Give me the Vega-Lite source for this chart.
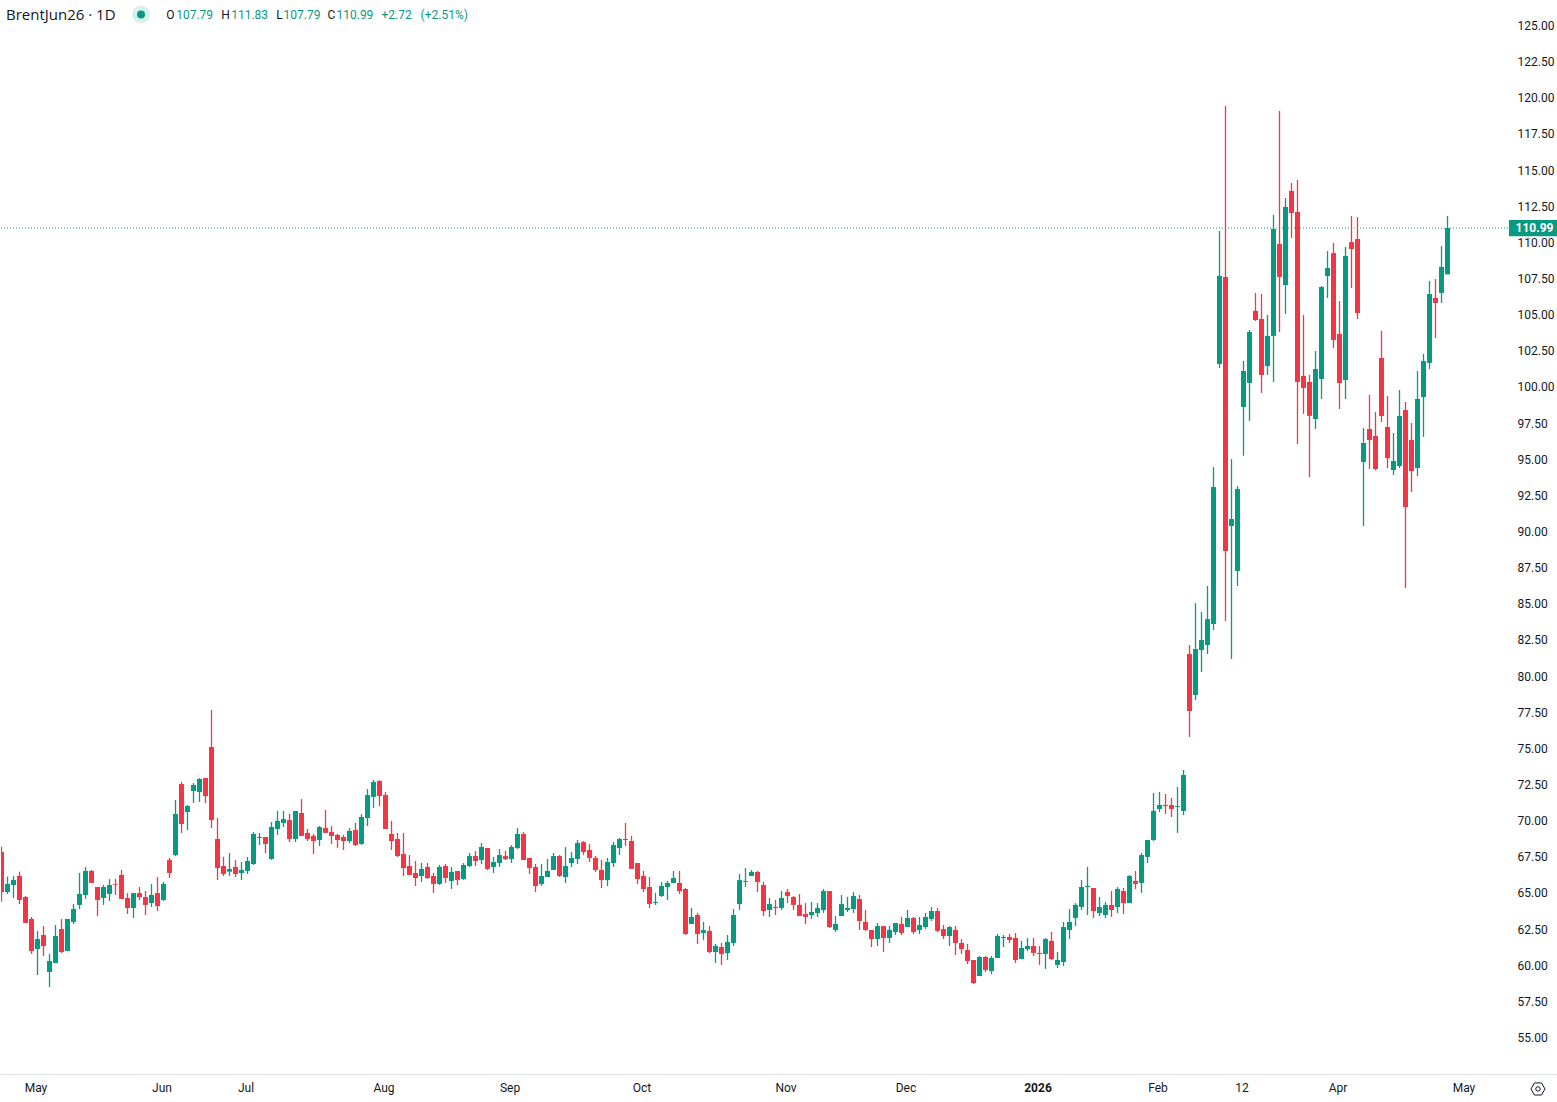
{
  "$schema": "https://vega.github.io/schema/vega-lite/v6.json",
  "width": 1510,
  "height": 1074,
  "padding": 0,
  "background": "#ffffff",
  "config": {
    "view": {"stroke": null},
    "text": {"font": "Roboto", "fontSize": 12}
  },
  "resolve": {"axis": {"x": "independent", "y": "independent"}},
  "datasets": {
    "candles": [
      {"i":0,"o":67.83,"h":68.20,"l":64.39,"c":65.06},{"i":1,"o":65.06,"h":66.13,"l":64.93,"c":65.62},{"i":2,"o":65.55,"h":66.17,"l":64.65,"c":65.89},{"i":3,"o":66.17,"h":66.47,"l":64.23,"c":64.51},
      {"i":4,"o":64.72,"h":64.79,"l":62.92,"c":62.92},{"i":5,"o":63.20,"h":63.34,"l":60.78,"c":60.98},{"i":6,"o":61.12,"h":62.37,"l":59.32,"c":61.81},{"i":7,"o":62.09,"h":62.71,"l":60.64,"c":61.33},
      {"i":8,"o":59.53,"h":60.78,"l":58.49,"c":60.29},{"i":9,"o":60.15,"h":62.78,"l":60.15,"c":62.02},{"i":10,"o":62.50,"h":63.20,"l":60.84,"c":60.91},{"i":11,"o":60.98,"h":63.20,"l":60.98,"c":63.20},
      {"i":12,"o":62.99,"h":64.23,"l":62.85,"c":63.89},{"i":13,"o":64.17,"h":66.38,"l":63.89,"c":64.93},{"i":14,"o":64.86,"h":66.79,"l":64.58,"c":66.52},{"i":15,"o":66.52,"h":66.59,"l":65.69,"c":65.69},
      {"i":16,"o":65.41,"h":65.41,"l":63.40,"c":64.51},{"i":17,"o":64.65,"h":65.55,"l":64.17,"c":65.41},{"i":18,"o":64.93,"h":65.96,"l":64.44,"c":65.55},{"i":19,"o":65.62,"h":65.96,"l":64.86,"c":65.57},
      {"i":20,"o":66.24,"h":66.59,"l":64.58,"c":64.58},{"i":21,"o":64.65,"h":64.99,"l":63.54,"c":63.96},{"i":22,"o":63.96,"h":64.99,"l":63.27,"c":64.99},{"i":23,"o":64.99,"h":65.41,"l":64.51,"c":64.72},
      {"i":24,"o":64.72,"h":65.13,"l":63.47,"c":64.17},{"i":25,"o":64.30,"h":65.62,"l":64.03,"c":64.86},{"i":26,"o":64.99,"h":66.10,"l":63.75,"c":64.09},{"i":27,"o":64.51,"h":65.76,"l":64.44,"c":65.62},
      {"i":28,"o":67.28,"h":67.42,"l":66.03,"c":66.38},{"i":29,"o":67.62,"h":71.43,"l":67.55,"c":70.46},{"i":30,"o":72.53,"h":72.67,"l":69.15,"c":69.77},{"i":31,"o":70.60,"h":71.08,"l":69.35,"c":71.01},
      {"i":32,"o":72.05,"h":72.60,"l":71.22,"c":72.47},{"i":33,"o":71.98,"h":72.95,"l":71.29,"c":72.88},{"i":34,"o":72.95,"h":72.95,"l":71.22,"c":71.70},{"i":35,"o":75.09,"h":77.65,"l":69.49,"c":70.04},
      {"i":36,"o":68.73,"h":70.18,"l":65.89,"c":66.72},{"i":37,"o":66.86,"h":67.49,"l":66.17,"c":66.31},{"i":38,"o":66.47,"h":67.76,"l":66.17,"c":66.65},{"i":39,"o":66.79,"h":67.28,"l":66.10,"c":66.31},
      {"i":40,"o":66.38,"h":67.14,"l":65.89,"c":66.59},{"i":41,"o":66.52,"h":67.49,"l":66.31,"c":67.21},{"i":42,"o":67.00,"h":69.21,"l":66.93,"c":69.08},{"i":43,"o":68.80,"h":69.15,"l":68.32,"c":68.87},
      {"i":44,"o":68.87,"h":68.87,"l":67.76,"c":68.39},{"i":45,"o":67.35,"h":69.91,"l":67.28,"c":69.56},{"i":46,"o":69.42,"h":70.67,"l":69.01,"c":69.98},{"i":47,"o":69.84,"h":70.67,"l":69.56,"c":70.11},
      {"i":48,"o":70.04,"h":70.46,"l":68.52,"c":68.73},{"i":49,"o":68.73,"h":70.67,"l":68.52,"c":70.67},{"i":50,"o":70.53,"h":71.50,"l":68.94,"c":68.94},{"i":51,"o":69.15,"h":69.42,"l":68.59,"c":68.73},
      {"i":52,"o":68.94,"h":69.08,"l":67.69,"c":68.59},{"i":53,"o":68.66,"h":69.63,"l":68.25,"c":69.56},{"i":54,"o":69.49,"h":70.74,"l":69.15,"c":69.15},{"i":55,"o":69.21,"h":69.63,"l":68.39,"c":68.94},
      {"i":56,"o":69.01,"h":69.08,"l":68.11,"c":68.66},{"i":57,"o":68.87,"h":69.01,"l":67.97,"c":68.59},{"i":58,"o":68.59,"h":69.49,"l":68.45,"c":69.29},{"i":59,"o":69.35,"h":69.84,"l":68.25,"c":68.32},
      {"i":60,"o":68.39,"h":70.46,"l":68.32,"c":70.25},{"i":61,"o":70.18,"h":72.19,"l":69.63,"c":71.77},{"i":62,"o":71.64,"h":72.81,"l":70.88,"c":72.67},{"i":63,"o":72.74,"h":72.81,"l":71.01,"c":71.70},
      {"i":64,"o":71.77,"h":71.98,"l":69.42,"c":69.42},{"i":65,"o":69.08,"h":69.98,"l":67.97,"c":68.59},{"i":66,"o":68.73,"h":69.15,"l":67.49,"c":67.55},{"i":67,"o":67.69,"h":69.15,"l":66.17,"c":66.72},
      {"i":68,"o":66.86,"h":67.62,"l":66.24,"c":66.24},{"i":69,"o":66.38,"h":67.21,"l":65.48,"c":66.03},{"i":70,"o":66.17,"h":67.07,"l":65.76,"c":66.66},{"i":71,"o":66.80,"h":67.07,"l":65.96,"c":66.03},
      {"i":72,"o":66.17,"h":66.38,"l":65.00,"c":65.62},{"i":73,"o":65.62,"h":66.93,"l":65.55,"c":66.80},{"i":74,"o":66.86,"h":67.00,"l":65.69,"c":66.03},{"i":75,"o":65.83,"h":66.80,"l":65.27,"c":66.45},
      {"i":76,"o":66.52,"h":66.52,"l":65.55,"c":65.90},{"i":77,"o":65.96,"h":67.07,"l":65.90,"c":66.93},{"i":78,"o":66.86,"h":67.76,"l":66.80,"c":67.55},{"i":79,"o":67.55,"h":67.90,"l":66.86,"c":67.21},
      {"i":80,"o":67.28,"h":68.45,"l":67.00,"c":68.18},{"i":81,"o":68.11,"h":68.11,"l":66.59,"c":66.66},{"i":82,"o":66.80,"h":67.49,"l":66.38,"c":67.14},{"i":83,"o":67.07,"h":68.04,"l":66.80,"c":67.62},
      {"i":84,"o":67.55,"h":67.90,"l":67.28,"c":67.35},{"i":85,"o":67.35,"h":68.31,"l":67.07,"c":68.18},{"i":86,"o":68.11,"h":69.49,"l":68.04,"c":69.08},{"i":87,"o":69.08,"h":69.21,"l":67.28,"c":67.28},
      {"i":88,"o":67.42,"h":67.42,"l":66.31,"c":66.72},{"i":89,"o":66.79,"h":67.00,"l":65.06,"c":65.48},{"i":90,"o":65.62,"h":67.00,"l":65.48,"c":66.17},{"i":91,"o":66.10,"h":67.35,"l":66.10,"c":66.52},
      {"i":92,"o":66.59,"h":67.76,"l":66.59,"c":67.55},{"i":93,"o":67.55,"h":67.62,"l":66.10,"c":66.17},{"i":94,"o":66.10,"h":68.18,"l":65.69,"c":66.86},{"i":95,"o":67.07,"h":67.83,"l":66.79,"c":67.42},
      {"i":96,"o":67.35,"h":68.66,"l":67.00,"c":68.45},{"i":97,"o":68.52,"h":68.59,"l":67.62,"c":67.83},{"i":98,"o":67.97,"h":68.38,"l":67.14,"c":67.42},{"i":99,"o":67.42,"h":67.55,"l":66.45,"c":66.59},
      {"i":100,"o":66.59,"h":67.28,"l":65.34,"c":65.89},{"i":101,"o":65.89,"h":67.42,"l":65.48,"c":67.14},{"i":102,"o":67.07,"h":68.52,"l":66.79,"c":68.31},{"i":103,"o":68.11,"h":68.80,"l":67.62,"c":68.73},
      {"i":104,"o":68.73,"h":69.84,"l":68.25,"c":68.66},{"i":105,"o":68.59,"h":68.94,"l":66.66,"c":66.66},{"i":106,"o":67.07,"h":67.07,"l":65.62,"c":65.96},{"i":107,"o":66.17,"h":66.52,"l":65.06,"c":65.27},
      {"i":108,"o":65.41,"h":66.10,"l":63.96,"c":64.23},{"i":109,"o":64.30,"h":65.00,"l":64.17,"c":64.37},{"i":110,"o":64.79,"h":65.76,"l":64.72,"c":65.48},{"i":111,"o":65.41,"h":65.82,"l":64.51,"c":65.69},
      {"i":112,"o":65.69,"h":66.52,"l":65.69,"c":66.03},{"i":113,"o":65.69,"h":66.52,"l":64.93,"c":65.13},{"i":114,"o":65.27,"h":65.34,"l":62.09,"c":62.16},{"i":115,"o":62.85,"h":63.96,"l":62.85,"c":63.34},
      {"i":116,"o":63.47,"h":63.61,"l":61.47,"c":62.16},{"i":117,"o":62.23,"h":62.99,"l":61.74,"c":62.43},{"i":118,"o":62.37,"h":62.71,"l":60.84,"c":60.91},{"i":119,"o":60.91,"h":61.47,"l":60.15,"c":61.33},
      {"i":120,"o":61.26,"h":61.54,"l":60.01,"c":60.77},{"i":121,"o":60.84,"h":62.09,"l":60.36,"c":61.61},{"i":122,"o":61.54,"h":63.89,"l":61.33,"c":63.47},{"i":123,"o":64.23,"h":66.31,"l":63.82,"c":65.89},
      {"i":124,"o":65.76,"h":66.72,"l":65.41,"c":65.82},{"i":125,"o":66.17,"h":66.59,"l":66.17,"c":66.45},{"i":126,"o":66.45,"h":66.52,"l":65.06,"c":65.76},{"i":127,"o":65.55,"h":65.76,"l":63.40,"c":63.75},
      {"i":128,"o":63.82,"h":64.65,"l":63.33,"c":64.23},{"i":129,"o":64.03,"h":64.51,"l":63.47,"c":63.96},{"i":130,"o":63.96,"h":65.13,"l":63.82,"c":64.65},{"i":131,"o":65.06,"h":65.27,"l":64.30,"c":64.79},
      {"i":132,"o":64.72,"h":64.79,"l":63.82,"c":64.17},{"i":133,"o":64.17,"h":64.93,"l":63.40,"c":63.40},{"i":134,"o":63.54,"h":64.30,"l":62.85,"c":63.34},{"i":135,"o":63.47,"h":64.37,"l":63.20,"c":63.68},
      {"i":136,"o":63.61,"h":64.30,"l":63.34,"c":63.96},{"i":137,"o":63.82,"h":65.27,"l":63.61,"c":65.13},{"i":138,"o":65.13,"h":65.13,"l":62.57,"c":62.64},{"i":139,"o":62.44,"h":63.40,"l":62.30,"c":62.85},
      {"i":140,"o":63.40,"h":64.86,"l":63.40,"c":64.23},{"i":141,"o":63.82,"h":64.72,"l":63.68,"c":63.96},{"i":142,"o":63.89,"h":65.06,"l":63.61,"c":64.79},{"i":143,"o":64.58,"h":64.86,"l":62.44,"c":63.06},
      {"i":144,"o":62.99,"h":63.82,"l":62.37,"c":62.44},{"i":145,"o":62.44,"h":62.44,"l":61.26,"c":61.81},{"i":146,"o":61.81,"h":62.92,"l":61.33,"c":62.71},{"i":147,"o":62.71,"h":62.71,"l":60.91,"c":61.88},
      {"i":148,"o":61.88,"h":62.71,"l":61.54,"c":62.44},{"i":149,"o":62.30,"h":62.92,"l":62.09,"c":62.92},{"i":150,"o":62.85,"h":63.34,"l":62.09,"c":62.23},{"i":151,"o":62.64,"h":63.82,"l":62.64,"c":63.27},
      {"i":152,"o":63.27,"h":63.34,"l":62.16,"c":62.30},{"i":153,"o":62.44,"h":63.34,"l":62.16,"c":62.78},{"i":154,"o":62.64,"h":63.61,"l":62.51,"c":63.34},{"i":155,"o":63.20,"h":64.03,"l":63.06,"c":63.75},
      {"i":156,"o":63.75,"h":63.96,"l":62.30,"c":62.37},{"i":157,"o":62.50,"h":62.78,"l":61.81,"c":62.02},{"i":158,"o":62.02,"h":62.71,"l":61.33,"c":62.64},{"i":159,"o":62.44,"h":62.71,"l":60.71,"c":61.54},
      {"i":160,"o":61.54,"h":61.81,"l":60.78,"c":61.12},{"i":161,"o":61.05,"h":61.47,"l":60.08,"c":60.29},{"i":162,"o":60.36,"h":60.36,"l":58.70,"c":58.77},{"i":163,"o":59.25,"h":60.64,"l":59.25,"c":60.57},
      {"i":164,"o":60.57,"h":60.64,"l":59.53,"c":59.67},{"i":165,"o":59.60,"h":60.64,"l":59.39,"c":60.50},{"i":166,"o":60.50,"h":62.16,"l":60.50,"c":62.02},{"i":167,"o":61.88,"h":62.09,"l":61.26,"c":61.95},
      {"i":168,"o":61.95,"h":62.16,"l":61.54,"c":61.74},{"i":169,"o":61.88,"h":62.23,"l":60.15,"c":60.36},{"i":170,"o":60.43,"h":61.68,"l":60.43,"c":61.19},{"i":171,"o":61.12,"h":61.88,"l":60.98,"c":61.33},
      {"i":172,"o":61.33,"h":61.88,"l":60.64,"c":60.85},{"i":173,"o":60.85,"h":61.33,"l":60.02,"c":60.78},{"i":174,"o":60.78,"h":61.88,"l":59.74,"c":61.81},{"i":175,"o":61.68,"h":62.30,"l":60.36,"c":60.43},
      {"i":176,"o":60.02,"h":60.91,"l":59.81,"c":60.36},{"i":177,"o":60.22,"h":62.99,"l":59.95,"c":62.64},{"i":178,"o":62.44,"h":63.89,"l":61.81,"c":62.99},{"i":179,"o":63.27,"h":64.30,"l":62.71,"c":64.17},
      {"i":180,"o":64.03,"h":65.90,"l":63.82,"c":65.41},{"i":181,"o":65.41,"h":66.80,"l":63.47,"c":65.48},{"i":182,"o":65.34,"h":65.34,"l":63.27,"c":63.75},{"i":183,"o":63.61,"h":64.72,"l":63.40,"c":64.03},
      {"i":184,"o":63.47,"h":64.37,"l":63.27,"c":64.17},{"i":185,"o":64.17,"h":65.13,"l":63.34,"c":63.82},{"i":186,"o":64.03,"h":65.41,"l":63.61,"c":65.27},{"i":187,"o":65.13,"h":65.34,"l":63.54,"c":64.30},
      {"i":188,"o":64.30,"h":66.24,"l":64.30,"c":66.17},{"i":189,"o":65.83,"h":66.52,"l":65.27,"c":65.62},{"i":190,"o":65.69,"h":67.76,"l":65.00,"c":67.62},{"i":191,"o":67.49,"h":68.66,"l":67.07,"c":68.66},
      {"i":192,"o":68.66,"h":71.91,"l":68.59,"c":70.67},{"i":193,"o":70.81,"h":71.98,"l":70.60,"c":71.08},{"i":194,"o":71.08,"h":71.84,"l":70.46,"c":71.01},{"i":195,"o":71.08,"h":71.57,"l":70.25,"c":70.81},
      {"i":196,"o":70.94,"h":72.33,"l":69.15,"c":71.01},{"i":197,"o":70.67,"h":73.50,"l":70.39,"c":73.16},{"i":198,"o":81.52,"h":82.15,"l":75.78,"c":77.58},{"i":199,"o":78.69,"h":85.05,"l":78.34,"c":81.87},
      {"i":200,"o":81.80,"h":84.43,"l":80.28,"c":82.49},{"i":201,"o":82.15,"h":86.23,"l":81.52,"c":83.94},{"i":202,"o":83.60,"h":94.46,"l":83.18,"c":93.08},{"i":203,"o":101.59,"h":110.79,"l":101.31,"c":107.68},
      {"i":204,"o":107.61,"h":119.43,"l":83.81,"c":88.65},{"i":205,"o":90.38,"h":95.01,"l":81.18,"c":90.86},{"i":206,"o":87.27,"h":93.14,"l":86.23,"c":92.94},{"i":207,"o":98.61,"h":101.80,"l":95.24,"c":101.10},
      {"i":208,"o":100.27,"h":103.94,"l":97.65,"c":103.80},{"i":209,"o":105.26,"h":106.50,"l":104.56,"c":104.63},{"i":210,"o":104.70,"h":106.43,"l":99.58,"c":100.83},{"i":211,"o":101.45,"h":104.98,"l":100.83,"c":103.53},
      {"i":212,"o":103.53,"h":111.90,"l":100.34,"c":110.93},{"i":213,"o":109.89,"h":119.09,"l":103.80,"c":107.61},{"i":214,"o":107.05,"h":113.07,"l":105.05,"c":112.45},{"i":215,"o":113.56,"h":114.11,"l":110.30,"c":112.03},
      {"i":216,"o":112.10,"h":114.32,"l":96.05,"c":100.34},{"i":217,"o":100.76,"h":104.98,"l":98.13,"c":99.93},{"i":218,"o":100.34,"h":100.83,"l":93.77,"c":98.00},{"i":219,"o":97.78,"h":102.49,"l":97.09,"c":101.24},
      {"i":220,"o":100.55,"h":106.98,"l":99.17,"c":106.91},{"i":221,"o":107.67,"h":109.40,"l":106.15,"c":108.23},{"i":222,"o":109.26,"h":109.96,"l":102.69,"c":103.25},{"i":223,"o":103.66,"h":105.94,"l":98.47,"c":100.27},
      {"i":224,"o":100.48,"h":109.68,"l":99.17,"c":109.06},{"i":225,"o":110.02,"h":111.82,"l":106.84,"c":109.54},{"i":226,"o":110.23,"h":111.75,"l":104.70,"c":105.11},{"i":227,"o":94.81,"h":97.16,"l":90.38,"c":96.12},
      {"i":228,"o":97.09,"h":99.44,"l":94.32,"c":96.33},{"i":229,"o":96.61,"h":98.27,"l":94.25,"c":94.32},{"i":230,"o":102.00,"h":103.87,"l":97.57,"c":97.99},{"i":231,"o":97.23,"h":99.37,"l":94.39,"c":95.08},
      {"i":232,"o":94.25,"h":96.81,"l":93.91,"c":94.88},{"i":233,"o":94.53,"h":99.79,"l":94.39,"c":97.99},{"i":234,"o":98.40,"h":98.96,"l":86.09,"c":91.69},{"i":235,"o":96.33,"h":97.51,"l":92.73,"c":94.18},
      {"i":236,"o":94.39,"h":101.10,"l":93.84,"c":99.17},{"i":237,"o":99.30,"h":102.28,"l":96.54,"c":101.79},{"i":238,"o":101.66,"h":107.33,"l":101.24,"c":106.43},{"i":239,"o":106.15,"h":107.47,"l":103.38,"c":105.81},
      {"i":240,"o":106.50,"h":109.75,"l":105.81,"c":108.30},{"i":241,"o":107.79,"h":111.83,"l":107.79,"c":110.99}
    ],
    "last": [{"c": 110.99}]
  },
  "layer": [
    {
      "data": {"name": "last"},
      "mark": {"type": "rule", "color": "#089981", "strokeWidth": 1, "strokeDash": [1, 2]},
      "encoding": {
        "x": {"datum": -0.08, "axis": null},
        "x2": {"datum": 251.5},
        "y": {"field": "c", "type": "quantitative", "axis": null}
      }
    },
    {
      "data": {"name": "candles"},
      "mark": {"type": "rule", "strokeWidth": 1.3, "clip": true},
      "encoding": {
        "x": {
          "field": "i",
          "type": "quantitative",
          "scale": {"domain": [-0.0833, 251.5833], "nice": false, "zero": false, "padding": 0},
          "axis": {
            "title": null,
            "grid": false,
            "domain": false,
            "ticks": false,
            "values": [6, 27, 41, 64, 85, 107, 131, 151, 173, 193, 207, 223, 244],
            "labelExpr": "{'6':'May','27':'Jun','41':'Jul','64':'Aug','85':'Sep','107':'Oct','131':'Nov','151':'Dec','173':'2026','193':'Feb','207':'12','223':'Apr','244':'May'}[''+datum.value]",
            "labelFont": "Roboto",
            "labelFontSize": 12,
            "labelFontWeight": {"expr": "datum.value == 173 ? 'bold' : 'normal'"},
            "labelColor": "#131722",
            "labelPadding": 8,
            "labelOffset": -2,
            "labelOverlap": false,
            "labelFlush": false
          }
        },
        "y": {
          "field": "l",
          "type": "quantitative",
          "scale": {"domain": [52.475, 126.764], "nice": false, "zero": false},
          "axis": {
            "title": null,
            "orient": "right",
            "grid": false,
            "domain": false,
            "ticks": false,
            "values": [55, 57.5, 60, 62.5, 65, 67.5, 70, 72.5, 75, 77.5, 80, 82.5, 85, 87.5, 90, 92.5, 95, 97.5, 100, 102.5, 105, 107.5, 110, 112.5, 115, 117.5, 120, 122.5, 125],
            "format": ".2f",
            "labelFont": "Roboto",
            "labelFontSize": 12,
            "labelColor": "#131722",
            "labelPadding": 6,
            "labelOverlap": false
          }
        },
        "y2": {"field": "h"},
        "color": {
          "condition": {"test": "datum.c >= datum.o", "value": "#089981"},
          "value": "#f23645"
        }
      }
    },
    {
      "data": {"name": "candles"},
      "mark": {"type": "bar", "size": 5, "clip": true},
      "encoding": {
        "x": {"field": "i", "type": "quantitative", "axis": null},
        "y": {"field": "o", "type": "quantitative", "axis": null},
        "y2": {"field": "c"},
        "color": {
          "condition": {"test": "datum.c >= datum.o", "value": "#089981"},
          "value": "#f23645"
        }
      }
    },
    {
      "data": {"name": "last"},
      "mark": {"type": "rect", "color": "#089981"},
      "encoding": {
        "x": {"datum": 251.25, "axis": null},
        "x2": {"datum": 259.4},
        "y": {"datum": 111.54, "axis": null},
        "y2": {"datum": 110.43}
      }
    },
    {
      "data": {"name": "last"},
      "mark": {"type": "text", "color": "#ffffff", "fontWeight": "bold", "baseline": "middle"},
      "encoding": {
        "x": {"datum": 255.5, "axis": null},
        "y": {"field": "c", "type": "quantitative", "axis": null},
        "text": {"field": "c", "type": "quantitative", "format": ".2f"}
      }
    },
    {
      "data": {"name": "last"},
      "mark": {"type": "rule", "color": "#e0e3eb", "strokeWidth": 1},
      "encoding": {
        "x": {"datum": -0.08, "axis": null},
        "x2": {"datum": 259.4},
        "y": {"datum": 52.44, "axis": null}
      }
    },
    {
      "data": {"name": "last"},
      "mark": {"type": "point", "shape": "M-1,0L-0.5,-0.866L0.5,-0.866L1,0L0.5,0.866L-0.5,0.866Z", "filled": false, "size": 196, "color": "#131722", "strokeWidth": 1, "opacity": 1},
      "encoding": {"x": {"datum": 256.08, "axis": null}, "y": {"datum": 51.44, "axis": null}}
    },
    {
      "data": {"name": "last"},
      "mark": {"type": "point", "shape": "circle", "filled": false, "size": 20, "color": "#131722", "strokeWidth": 1, "opacity": 1},
      "encoding": {"x": {"datum": 256.08, "axis": null}, "y": {"datum": 51.44, "axis": null}}
    },
    {"data": {"name": "last"}, "mark": {"type": "text", "text": "BrentJun26 · 1D", "align": "left", "baseline": "middle", "font": "Open Sans", "fontSize": 15, "color": "#131722"}, "encoding": {"x": {"datum": 0.75, "axis": null}, "y": {"datum": 125.76, "axis": null}}},
    {"data": {"name": "last"}, "mark": {"type": "point", "shape": "circle", "filled": true, "size": 324, "color": "#089981", "opacity": 0.15}, "encoding": {"x": {"datum": 23.25, "axis": null}, "y": {"datum": 125.76, "axis": null}}},
    {"data": {"name": "last"}, "mark": {"type": "point", "shape": "circle", "filled": true, "size": 64, "color": "#089981", "opacity": 1}, "encoding": {"x": {"datum": 23.25, "axis": null}, "y": {"datum": 125.76, "axis": null}}},
    {"data": {"name": "last"}, "mark": {"type": "text", "text": "O", "align": "left", "baseline": "middle", "color": "#131722"}, "encoding": {"x": {"datum": 27.45, "axis": null}, "y": {"datum": 125.76, "axis": null}}},
    {"data": {"name": "last"}, "mark": {"type": "text", "text": "107.79", "align": "left", "baseline": "middle", "color": "#089981"}, "encoding": {"x": {"datum": 29.12, "axis": null}, "y": {"datum": 125.76, "axis": null}}},
    {"data": {"name": "last"}, "mark": {"type": "text", "text": "H", "align": "left", "baseline": "middle", "color": "#131722"}, "encoding": {"x": {"datum": 36.62, "axis": null}, "y": {"datum": 125.76, "axis": null}}},
    {"data": {"name": "last"}, "mark": {"type": "text", "text": "111.83", "align": "left", "baseline": "middle", "color": "#089981"}, "encoding": {"x": {"datum": 38.28, "axis": null}, "y": {"datum": 125.76, "axis": null}}},
    {"data": {"name": "last"}, "mark": {"type": "text", "text": "L", "align": "left", "baseline": "middle", "color": "#131722"}, "encoding": {"x": {"datum": 45.78, "axis": null}, "y": {"datum": 125.76, "axis": null}}},
    {"data": {"name": "last"}, "mark": {"type": "text", "text": "107.79", "align": "left", "baseline": "middle", "color": "#089981"}, "encoding": {"x": {"datum": 47.0, "axis": null}, "y": {"datum": 125.76, "axis": null}}},
    {"data": {"name": "last"}, "mark": {"type": "text", "text": "C", "align": "left", "baseline": "middle", "color": "#131722"}, "encoding": {"x": {"datum": 54.33, "axis": null}, "y": {"datum": 125.76, "axis": null}}},
    {"data": {"name": "last"}, "mark": {"type": "text", "text": "110.99", "align": "left", "baseline": "middle", "color": "#089981"}, "encoding": {"x": {"datum": 55.83, "axis": null}, "y": {"datum": 125.76, "axis": null}}},
    {"data": {"name": "last"}, "mark": {"type": "text", "text": "+2.72", "align": "left", "baseline": "middle", "color": "#089981"}, "encoding": {"x": {"datum": 63.33, "axis": null}, "y": {"datum": 125.76, "axis": null}}},
    {"data": {"name": "last"}, "mark": {"type": "text", "text": "(+2.51%)", "align": "left", "baseline": "middle", "color": "#089981"}, "encoding": {"x": {"datum": 69.85, "axis": null}, "y": {"datum": 125.76, "axis": null}}}
  ]
}
